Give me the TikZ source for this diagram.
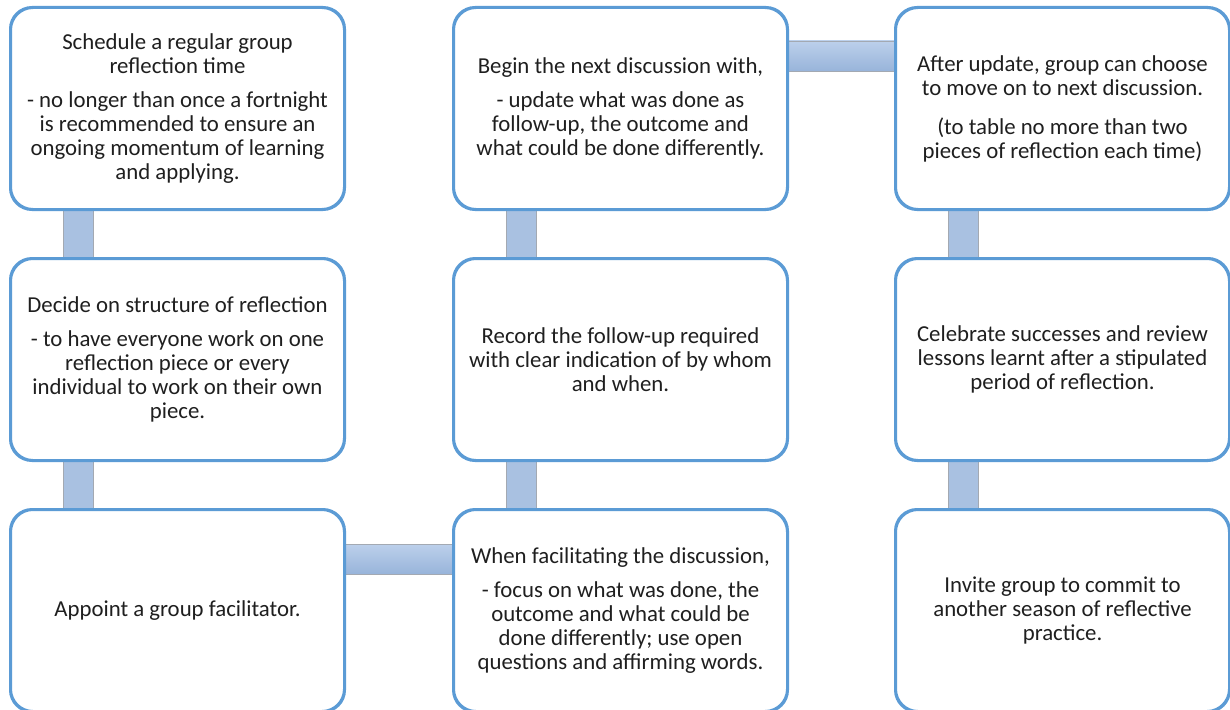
\documentclass[tikz,border=0pt]{standalone}
\usepackage{fontspec}
\setmainfont{Carlito}
\usetikzlibrary{calc}
\definecolor{boxblue}{HTML}{5B9BD5}
\definecolor{barlight}{HTML}{BCD0EB}
\definecolor{bardark}{HTML}{98B4DA}
\definecolor{barmid}{HTML}{A9C1E1}
\definecolor{bargray}{HTML}{A3A9B2}
\definecolor{txt}{HTML}{1F1F1F}
\tikzset{
  flowbox/.style={draw=boxblue, line width=2pt, rounded corners=22pt, fill=white,
    minimum width=333pt, minimum height=201pt, align=center, inner sep=0pt,
    text=txt, font=\fontsize{22.8pt}{24pt}\selectfont},
  hbar/.style={top color=barlight, bottom color=bardark, draw=bargray, line width=0.8pt},
  vbar/.style={fill=barmid, draw=bargray, line width=0.8pt}
}
\begin{document}
\begin{tikzpicture}[x=1pt,y=1pt]
\useasboundingbox (0,0) rectangle (1230,-709);
\clip (0,0) rectangle (1230,-709);
% boxes
\node[flowbox] (a1) at (177.5,-108.5) {Schedule a regular group\\reflection time\\[10pt]- no longer than once a fortnight\\is recommended to ensure an\\ongoing momentum of learning\\and applying.};
\node[flowbox] (a2) at (177.5,-359.5) {Decide on structure of reflection\\[10pt]- to have everyone work on one\\reflection piece or every\\individual to work on their own\\piece.};
\node[flowbox] (a3) at (177.5,-610.5) {Appoint a group facilitator.};
\node[flowbox] (b1) at (620.5,-108.5) {Begin the next discussion with,\\[10pt]- update what was done as\\follow-up, the outcome and\\what could be done differently.};
\node[flowbox] (b2) at (620.5,-359.5) {Record the follow-up required\\with clear indication of by whom\\and when.};
\node[flowbox] (b3) at (620.5,-610.5) {When facilitating the discussion,\\[10pt]- focus on what was done, the\\outcome and what could be\\done differently; use open\\questions and affirming words.};
\node[flowbox] (c1) at (1062.5,-108.5) {After update, group can choose\\to move on to next discussion.\\[15pt](to table no more than two\\pieces of reflection each time)};
\node[flowbox] (c2) at (1062.5,-359.5) {Celebrate successes and review\\lessons learnt after a stipulated\\period of reflection.};
\node[flowbox] (c3) at (1062.5,-610.5) {Invite group to commit to\\another season of reflective\\practice.};
% connectors
\path[vbar] ($(a1.south west)+(53,0)$) rectangle ($(a2.north west)+(83,0)$);
\path[vbar] ($(a2.south west)+(53,0)$) rectangle ($(a3.north west)+(83,0)$);
\path[vbar] ($(b1.south west)+(53,0)$) rectangle ($(b2.north west)+(83,0)$);
\path[vbar] ($(b2.south west)+(53,0)$) rectangle ($(b3.north west)+(83,0)$);
\path[vbar] ($(c1.south west)+(53,0)$) rectangle ($(c2.north west)+(83,0)$);
\path[vbar] ($(c2.south west)+(53,0)$) rectangle ($(c3.north west)+(83,0)$);
\path[hbar] ($(b1.north east)+(0,-34)$) rectangle ($(c1.north west)+(0,-64)$);
\path[hbar] ($(a3.north east)+(0,-35)$) rectangle ($(b3.north west)+(0,-65)$);
% redraw box borders over bar ends
\foreach \n in {a1,a2,a3,b1,b2,b3,c1,c2,c3}{
  \draw[boxblue, line width=2pt, rounded corners=22pt] (\n.south west) rectangle (\n.north east);
}
\end{tikzpicture}
\end{document}
